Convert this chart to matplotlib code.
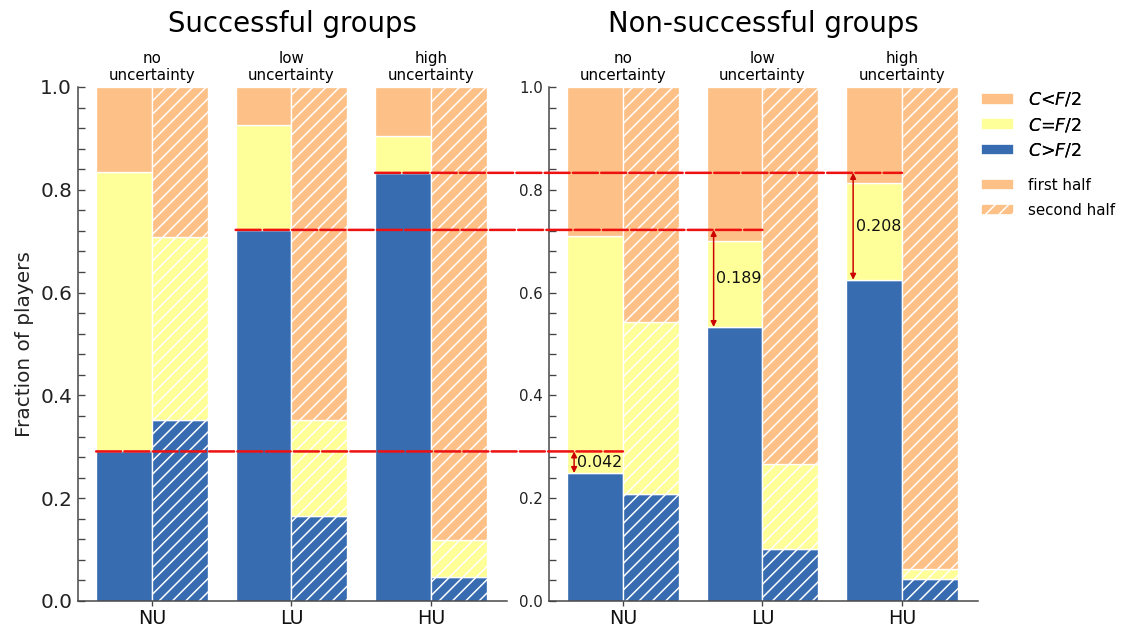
import matplotlib
matplotlib.use("Agg")
import matplotlib.pyplot as plt
from matplotlib.patches import Patch, ConnectionPatch
from matplotlib.ticker import MultipleLocator
import matplotlib.transforms as mtransforms

# ---------------- data ----------------
conditions = ["NU", "LU", "HU"]
group_labels = ["no\nuncertainty", "low\nuncertainty", "high\nuncertainty"]
panel_titles = ["Successful groups", "Non-successful groups"]
category_labels = ["$C$<$F$/2", "$C$=$F$/2", "$C$>$F$/2"]
half_labels = ["first half", "second half"]

# fractions of players: C>F/2, C=F/2, C<F/2
succ_first_gt = [0.291, 0.722, 0.833]
succ_first_eq = [0.544, 0.204, 0.072]
succ_first_lt = [0.165, 0.074, 0.095]
succ_second_gt = [0.352, 0.165, 0.047]
succ_second_eq = [0.356, 0.187, 0.072]
succ_second_lt = [0.292, 0.648, 0.881]

non_first_gt = [0.249, 0.533, 0.625]
non_first_eq = [0.461, 0.167, 0.188]
non_first_lt = [0.290, 0.300, 0.187]
non_second_gt = [0.208, 0.101, 0.043]
non_second_eq = [0.335, 0.166, 0.019]
non_second_lt = [0.457, 0.733, 0.938]

# ---------------- style ----------------
C_LT = "#fdc086"
C_EQ = "#ffff99"
C_GT = "#386cb0"
RED = "#ee1111"
ARROW = "#cc0000"
HATCH = "///"
plt.rcParams["hatch.color"] = "white"
plt.rcParams["hatch.linewidth"] = 0.9
plt.rcParams["font.family"] = ["DejaVu Sans"]

W, H, DPI = 1125, 628, 120
fig = plt.figure(figsize=(W / DPI, H / DPI), dpi=DPI)
ax1 = fig.add_axes([78 / W, 1 - 601 / H, 429 / W, 514 / H])
ax2 = fig.add_axes([549 / W, 1 - 601 / H, 429 / W, 514 / H])

bw = 0.4
x = list(range(len(conditions)))


def draw_panel(ax, f_gt, f_eq, f_lt, s_gt, s_eq, s_lt, ytick_fs):
    xf = [i - bw / 2 for i in x]
    xs = [i + bw / 2 for i in x]
    kw = dict(width=bw, edgecolor="white", linewidth=0.8)
    ax.bar(xf, f_gt, color=C_GT, **kw)
    ax.bar(xf, f_eq, bottom=f_gt, color=C_EQ, **kw)
    ax.bar(xf, f_lt, bottom=[a + b for a, b in zip(f_gt, f_eq)], color=C_LT, **kw)
    ax.bar(xs, s_gt, color=C_GT, hatch=HATCH, **kw)
    ax.bar(xs, s_eq, bottom=s_gt, color=C_EQ, hatch=HATCH, **kw)
    ax.bar(xs, s_lt, bottom=[a + b for a, b in zip(s_gt, s_eq)], color=C_LT,
           hatch=HATCH, **kw)
    ax.set_xlim(-0.53, 2.545)
    ax.set_ylim(0, 1)
    ax.set_xticks(x)
    ax.set_xticklabels(conditions, fontsize=11.5)
    ax.yaxis.set_major_locator(MultipleLocator(0.2))
    ax.yaxis.set_minor_locator(MultipleLocator(0.04))
    ax.tick_params(axis="y", which="both", direction="in", length=4,
                   width=0.8, color="#444444", labelsize=ytick_fs,
                   labelcolor="#222222")
    ax.tick_params(axis="x", direction="out", length=3, width=0.8, pad=1.5,
                   color="#444444", labelcolor="#111111")
    for sp in ["top", "right"]:
        ax.spines[sp].set_visible(False)
    for sp in ["left", "bottom"]:
        ax.spines[sp].set_color("#444444")
        ax.spines[sp].set_linewidth(0.9)
    trans = mtransforms.blended_transform_factory(ax.transData, ax.transAxes)
    for i, lab in zip(x, group_labels):
        ax.text(i, 1.008, lab, transform=trans, ha="center", va="bottom",
                fontsize=9, linespacing=1.15)


draw_panel(ax1, succ_first_gt, succ_first_eq, succ_first_lt,
           succ_second_gt, succ_second_eq, succ_second_lt, 12)
draw_panel(ax2, non_first_gt, non_first_eq, non_first_lt,
           non_second_gt, non_second_eq, non_second_lt, 9)

ax1.set_ylabel("Fraction of players", fontsize=12, color="#222222", labelpad=4)

fig.text((78 + 429 / 2) / W, 1 - 24 / H, panel_titles[0], ha="center",
         va="center", fontsize=16.5)
fig.text((549 + 429 / 2) / W, 1 - 24 / H, panel_titles[1], ha="center",
         va="center", fontsize=16.5)

# dashed comparison lines and difference arrows
for i in x:
    s = succ_first_gt[i]
    ns = non_first_gt[i]
    con = ConnectionPatch(xyA=(i - bw, s), coordsA=ax1.transData,
                          xyB=(i, s), coordsB=ax2.transData,
                          color=RED, lw=1.5, linestyle=(0, (10, 1.3)),
                          zorder=10)
    fig.add_artist(con)
    xa = i - bw + 0.05
    ax2.annotate("", xy=(xa, ns), xytext=(xa, s),
                 arrowprops=dict(arrowstyle="<|-|>", color=ARROW, lw=0.9,
                                 mutation_scale=7, shrinkA=0, shrinkB=0),
                 zorder=11)
    ax2.text(xa + 0.02, (s + ns) / 2, f"{s - ns:.3f}", ha="left",
             va="center", fontsize=9.5, color="#111111", zorder=12)

# legends
cat_handles = [Patch(facecolor=c, edgecolor="white") for c in (C_LT, C_EQ, C_GT)]
leg1 = fig.legend(cat_handles, category_labels, loc="upper left",
                  bbox_to_anchor=(981 / W, 1 - 91 / H), frameon=False,
                  borderaxespad=0, borderpad=0,
                  fontsize=10.5, handlelength=1.9, handleheight=0.65,
                  labelspacing=0.42, handletextpad=0.8)
half_handles = [Patch(facecolor=C_LT, edgecolor="white"),
                Patch(facecolor=C_LT, edgecolor="white", hatch=HATCH)]
leg2 = fig.legend(half_handles, half_labels, loc="upper left",
                  bbox_to_anchor=(981 / W, 1 - 178 / H), frameon=False,
                  borderaxespad=0, borderpad=0,
                  fontsize=9, handlelength=2.2, handleheight=0.75,
                  labelspacing=0.67, handletextpad=0.93)
fig.add_artist(leg1)

fig.savefig("out.png", dpi=DPI)
